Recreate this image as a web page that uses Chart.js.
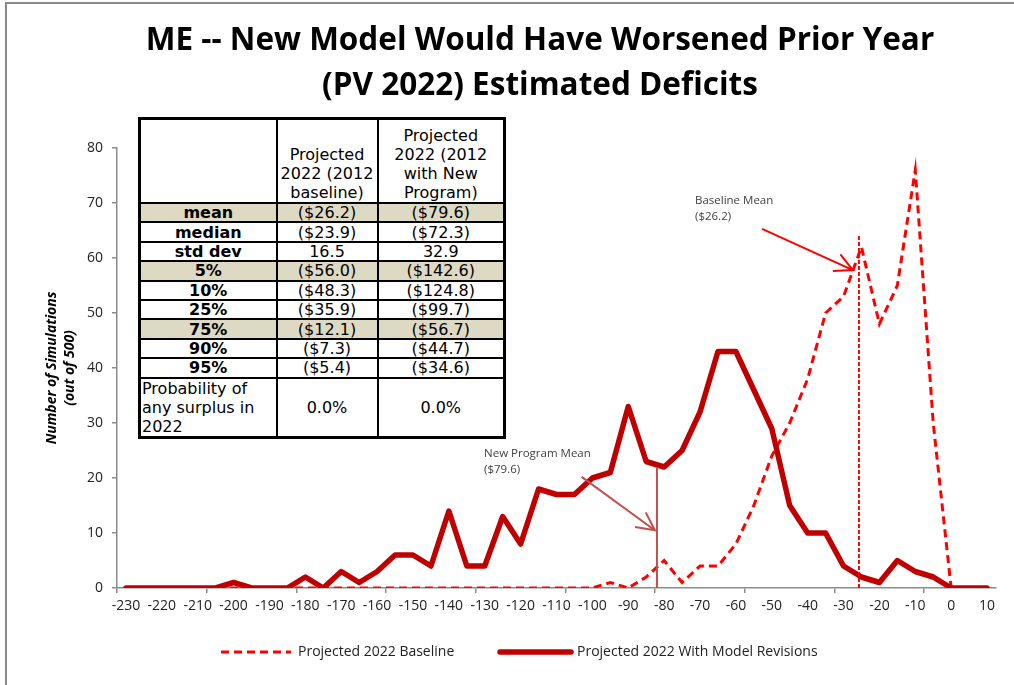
<!DOCTYPE html>
<html>
<head>
<meta charset="utf-8">
<script src="https://cdn.jsdelivr.net/npm/chart.js@4.4.1/dist/chart.umd.min.js"></script>
<style>
  body { margin: 0; background: #fff; }
  #wrap { position: relative; width: 1014px; height: 685px; overflow: hidden; }
  #frame { position: absolute; left: 5px; top: 2px; width: 1100px; height: 800px;
           border-left: 2px solid #8a8a8a; border-top: 2px solid #8a8a8a; }
  #chart { position: absolute; left: 0; top: 0; }
  #stats { position: absolute; left: 138px; top: 117px; width: 365px; table-layout: fixed;
           border-collapse: collapse; border: 3px solid #000; background: #fff;
           font-family: "DejaVu Sans", sans-serif; font-size: 16px; line-height: 17px; color: #000; }
  #stats td { border: 2px solid #000; padding: 0; text-align: center; white-space: nowrap; height: 17.4px; }
  #stats tr.head td { height: 82px; vertical-align: bottom; line-height: 19px; }
  #stats tr.prob td { height: 56px; line-height: 19px; }
  #stats td.lbl { font-weight: bold; }
  #stats tr.prob td.lbl { font-weight: normal; text-align: left; padding-left: 1px; }
  #stats tr.shade td { background: #ddd9c3; }
</style>
</head>
<body>
<div id="wrap">
  <div id="frame"></div>
  <canvas id="chart" width="1014" height="685"></canvas>
  <table id="stats"></table>
</div>
<script>
// deficit buckets ($ billions), one point every 5
const categories = [-230, -225, -220, -215, -210, -205, -200, -195, -190, -185, -180, -175, -170, -165,
  -160, -155, -150, -145, -140, -135, -130, -125, -120, -115, -110, -105, -100, -95, -90, -85, -80,
  -75, -70, -65, -60, -55, -50, -45, -40, -35, -30, -25, -20, -15, -10, -5, 0, 5, 10];

const baseline = [0, 0, 0, 0, 0, 0, 0, 0, 0, 0, 0, 0, 0, 0,
  0, 0, 0, 0, 0, 0, 0, 0, 0, 0, 0, 0, 0, 1, 0, 2, 5,
  1, 4, 4, 8, 15, 24, 30, 38, 50, 53, 62, 48, 55, 76, 30, 0, 0, 0];

const revisions = [0, 0, 0, 0, 0, 0, 1, 0, 0, 0, 2, 0, 3, 1,
  3, 6, 6, 4, 14, 4, 4, 13, 8, 18, 17, 17, 20, 21, 33, 23, 22,
  25, 32, 43, 43, 36, 29, 15, 10, 10, 4, 2, 1, 5, 3, 2, 0, 0, 0];

const titleLines = ['ME -- New Model Would Have Worsened Prior Year', '(PV 2022) Estimated Deficits'];
const seriesNames = ['Projected 2022 Baseline', 'Projected 2022 With Model Revisions'];

// summary table
const statLabels = ['mean', 'median', 'std dev', '5%', '10%', '25%', '75%', '90%', '95%'];
const baselineStats = ['($26.2)', '($23.9)', '16.5', '($56.0)', '($48.3)', '($35.9)', '($12.1)', '($7.3)', '($5.4)'];
const programStats = ['($79.6)', '($72.3)', '32.9', '($142.6)', '($124.8)', '($99.7)', '($56.7)', '($44.7)', '($34.6)'];
const shadedRows = ['mean', '5%', '75%'];
const colHeads = ['Projected<br>2022 (2012<br>baseline)', 'Projected<br>2022 (2012<br>with New<br>Program)'];
const surplusLabel = 'Probability of<br>any surplus in<br>2022';
const surplusProb = ['0.0%', '0.0%'];

// mean call-outs, as drawn on the original (data units)
const meanNotes = [
  { text: ['Baseline Mean', '($26.2)'], textAt: [-71.4, 70.5], lineX: -25.7, lineTop: 64,
    arrowFrom: [-52.7, 65.3], arrowTo: [-27.4, 57.8], color: '#ff0000', dash: [4, 2] },
  { text: ['New Program Mean', '($79.6)'], textAt: [-130.2, 24.5], lineX: -82.0, lineTop: 22,
    arrowFrom: [-103.0, 20.2], arrowTo: [-82.6, 10.5], color: '#c0504d', dash: [] }
];

// build the table
let html = '<colgroup><col style="width:137px"><col style="width:101px"><col style="width:127px"></colgroup>';
html += '<tr class="head"><td></td><td>' + colHeads[0] + '</td><td>' + colHeads[1] + '</td></tr>';
statLabels.forEach((lbl, i) => {
  let cls = shadedRows.includes(lbl) ? ' class="shade"' : '';
  html += '<tr' + cls + '><td class="lbl">' + lbl + '</td><td>' + baselineStats[i] + '</td><td>' + programStats[i] + '</td></tr>';
});
html += '<tr class="prob"><td class="lbl">' + surplusLabel + '</td><td>' + surplusProb[0] + '</td><td>' + surplusProb[1] + '</td></tr>';
document.getElementById('stats').innerHTML = html;

const axisGray = '#8c8c8c';
Chart.defaults.font.family = 'Open Sans';
Chart.defaults.color = '#1a1a1a';

let idx = (v) => (v - categories[0]) / 5;

let drawArrow = (ctx, x0, y0, x1, y1) => {
  ctx.beginPath();
  ctx.moveTo(x0, y0);
  ctx.lineTo(x1, y1);
  let a = Math.atan2(y0 - y1, x0 - x1);
  let len = 20, spread = 27 * Math.PI / 180;
  ctx.moveTo(x1 + len * Math.cos(a - spread), y1 + len * Math.sin(a - spread));
  ctx.lineTo(x1, y1);
  ctx.lineTo(x1 + len * Math.cos(a + spread), y1 + len * Math.sin(a + spread));
  ctx.stroke();
};

// title is centred on the slide, not on the plot, so it is drawn by hand
const titlePlugin = {
  id: 'slideTitle',
  afterDraw(chart) {
    const ctx = chart.ctx;
    ctx.save();
    ctx.fillStyle = '#000';
    ctx.font = 'bold 31.5px "Open Sans"';
    ctx.textAlign = 'center';
    ctx.textBaseline = 'middle';
    titleLines.forEach((t, i) => ctx.fillText(t, 540, 41 + i * 45));
    ctx.restore();
  }
};

const notesPlugin = {
  id: 'notes',
  afterDatasetsDraw(chart) {
    const {ctx, scales: {x, y}} = chart;
    ctx.save();
    meanNotes.forEach(n => {
      ctx.strokeStyle = n.color;
      ctx.lineWidth = 2;
      ctx.setLineDash(n.dash);
      ctx.beginPath();
      ctx.moveTo(x.getPixelForValue(idx(n.lineX)), y.getPixelForValue(n.lineTop));
      ctx.lineTo(x.getPixelForValue(idx(n.lineX)), y.getPixelForValue(0));
      ctx.stroke();
      ctx.setLineDash([]);
      drawArrow(ctx, x.getPixelForValue(idx(n.arrowFrom[0])), y.getPixelForValue(n.arrowFrom[1]),
        x.getPixelForValue(idx(n.arrowTo[0])), y.getPixelForValue(n.arrowTo[1]));
      ctx.fillStyle = '#404040';
      ctx.font = '11.5px "Open Sans"';
      ctx.textBaseline = 'middle';
      ctx.textAlign = 'left';
      ctx.fillText(n.text[0], x.getPixelForValue(idx(n.textAt[0])), y.getPixelForValue(n.textAt[1]));
      ctx.fillText(n.text[1], x.getPixelForValue(idx(n.textAt[0])), y.getPixelForValue(n.textAt[1]) + 16);
    });
    ctx.restore();
  }
};

// legend under the axis, like the excel one
const legendPlugin = {
  id: 'bottomLegend',
  afterDraw(chart) {
    const ctx = chart.ctx;
    const spots = [[221, 291, 298], [500, 571, 577]];
    ctx.save();
    chart.data.datasets.forEach((ds, i) => {
      let [a, b, t] = spots[i];
      ctx.strokeStyle = ds.borderColor;
      ctx.lineWidth = ds.borderWidth;
      ctx.lineCap = ds.borderDash.length ? 'butt' : 'round';
      ctx.setLineDash(ds.borderDash);
      ctx.beginPath();
      ctx.moveTo(a, 652);
      ctx.lineTo(b, 652);
      ctx.stroke();
      ctx.setLineDash([]);
      ctx.fillStyle = '#222';
      ctx.font = '14px "Open Sans"';
      ctx.textBaseline = 'middle';
      ctx.fillText(ds.label, t, 652);
    });
    ctx.restore();
  }
};

new Chart(document.getElementById('chart'), {
  type: 'line',
  data: {
    labels: categories,
    datasets: [
      { label: seriesNames[0], data: baseline, borderColor: '#ff0000', borderWidth: 3,
        borderDash: [8, 5], pointRadius: 0, tension: 0, order: 1 },
      { label: seriesNames[1], data: revisions, borderColor: '#c00000', borderWidth: 5.5,
        borderDash: [], borderJoinStyle: 'round', borderCapStyle: 'round', pointRadius: 0, tension: 0, order: 0 }
    ]
  },
  options: {
    responsive: false,
    animation: false,
    layout: { padding: { left: 0, right: 18, top: 148, bottom: 0 } },
    plugins: {
      legend: { display: false },
      tooltip: { enabled: false },
      title: { display: false }
    },
    scales: {
      x: {
        type: 'category',
        offset: true,
        grid: { offset: true, drawOnChartArea: false, tickLength: 5, lineWidth: 1.5,
          color: (c) => c.index % 5 === 0 ? axisGray : 'rgba(0,0,0,0)' },
        border: { color: axisGray, width: 1.5 },
        ticks: {
          autoSkip: false, maxRotation: 0, padding: 5, color: '#222', font: { size: 14 },
          callback: function (val, i) { return i % 2 === 0 ? this.getLabelForValue(val) : ''; }
        },
        afterFit: (s) => { s.height = 97; }
      },
      y: {
        min: 0, max: 80,
        grid: { drawOnChartArea: false, tickLength: 5, color: axisGray, lineWidth: 1.5 },
        border: { color: axisGray, width: 1.5 },
        ticks: { stepSize: 10, padding: 9, color: '#222', font: { size: 14 } },
        title: {
          display: true, text: ['Number of Simulations', '(out of 500)'], color: '#000',
          font: { size: 14, weight: 'bold', style: 'italic', lineHeight: 1.3 },
          padding: { top: 43, bottom: 0 }
        },
        afterFit: (s) => { s.width = 117; }
      }
    }
  },
  plugins: [notesPlugin, legendPlugin, titlePlugin]
});
</script>
</body>
</html>
